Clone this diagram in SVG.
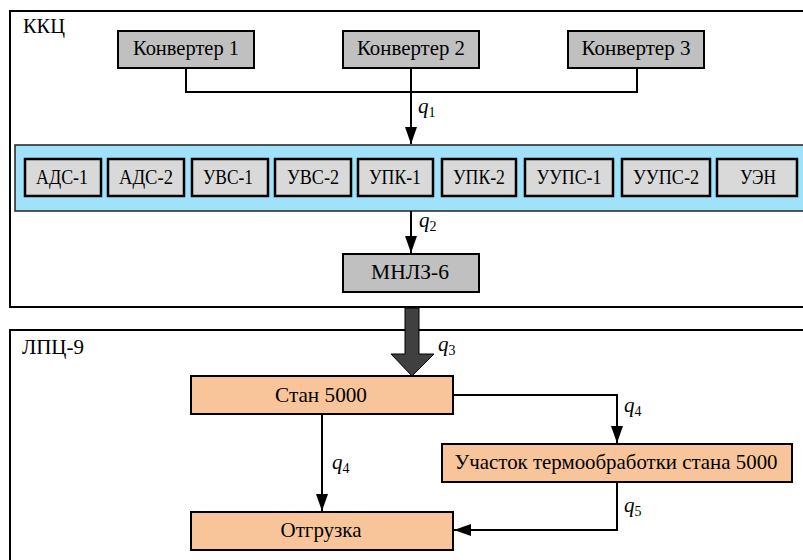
<svg xmlns="http://www.w3.org/2000/svg" width="803" height="560" viewBox="0 0 803 560">
  <defs>
    <marker id="arrowL" viewBox="0 0 17 12" refX="17" refY="6" markerWidth="17" markerHeight="12" markerUnits="userSpaceOnUse" orient="auto">
      <path d="M0,0 L17,6 L0,12 Z" fill="#000"/>
    </marker>
  </defs>

  <!-- shop frames -->
  <g id="kkc">
    <rect x="10" y="11" width="800" height="296" fill="#fff" stroke="#000" stroke-width="2"/>
    <text font-family="Liberation Serif" font-size="20" x="23" y="33" textLength="42" lengthAdjust="spacingAndGlyphs">ККЦ</text>
  </g>
  <g id="lpc9">
    <rect x="10" y="330" width="800" height="240" fill="#fff" stroke="#000" stroke-width="2"/>
    <text font-family="Liberation Serif" font-size="20" x="22" y="354" textLength="62" lengthAdjust="spacingAndGlyphs">ЛПЦ-9</text>
  </g>

  <!-- converters -->
  <g id="conv1">
    <rect x="118" y="31" width="136" height="37" fill="#c0c0c0" stroke="#000" stroke-width="2"/>
    <text font-family="Liberation Serif" font-size="21" text-anchor="middle" x="186" y="55" textLength="106" lengthAdjust="spacingAndGlyphs">Конвертер 1</text>
  </g>
  <g id="conv2">
    <rect x="343" y="31" width="136" height="37" fill="#c0c0c0" stroke="#000" stroke-width="2"/>
    <text font-family="Liberation Serif" font-size="21" text-anchor="middle" x="411" y="55" textLength="108" lengthAdjust="spacingAndGlyphs">Конвертер 2</text>
  </g>
  <g id="conv3">
    <rect x="568" y="31" width="136" height="37" fill="#c0c0c0" stroke="#000" stroke-width="2"/>
    <text font-family="Liberation Serif" font-size="21" text-anchor="middle" x="636" y="55" textLength="109" lengthAdjust="spacingAndGlyphs">Конвертер 3</text>
  </g>

  <!-- secondary treatment band -->
  <g id="treatment">
    <rect x="15" y="145" width="800" height="66" fill="#9fe2fa" stroke="#222" stroke-width="1.5"/>
  </g>
  <g id="ads1"><rect x="25" y="159" width="76" height="37" fill="#d9d9d9" stroke="#000" stroke-width="2.5"/><text font-family="Liberation Serif" font-size="20" text-anchor="middle" x="62" y="184" textLength="52" lengthAdjust="spacingAndGlyphs">АДС-1</text></g>
  <g id="ads2"><rect x="108" y="159" width="76" height="37" fill="#d9d9d9" stroke="#000" stroke-width="2.5"/><text font-family="Liberation Serif" font-size="20" text-anchor="middle" x="146" y="184" textLength="54" lengthAdjust="spacingAndGlyphs">АДС-2</text></g>
  <g id="uvs1"><rect x="192" y="159" width="76" height="37" fill="#d9d9d9" stroke="#000" stroke-width="2.5"/><text font-family="Liberation Serif" font-size="20" text-anchor="middle" x="228" y="184" textLength="50" lengthAdjust="spacingAndGlyphs">УВС-1</text></g>
  <g id="uvs2"><rect x="275" y="159" width="76" height="37" fill="#d9d9d9" stroke="#000" stroke-width="2.5"/><text font-family="Liberation Serif" font-size="20" text-anchor="middle" x="313" y="184" textLength="52" lengthAdjust="spacingAndGlyphs">УВС-2</text></g>
  <g id="upk1"><rect x="358" y="159" width="75" height="37" fill="#d9d9d9" stroke="#000" stroke-width="2.5"/><text font-family="Liberation Serif" font-size="20" text-anchor="middle" x="395" y="184" textLength="52" lengthAdjust="spacingAndGlyphs">УПК-1</text></g>
  <g id="upk2"><rect x="442" y="159" width="74" height="37" fill="#d9d9d9" stroke="#000" stroke-width="2.5"/><text font-family="Liberation Serif" font-size="20" text-anchor="middle" x="479" y="184" textLength="52" lengthAdjust="spacingAndGlyphs">УПК-2</text></g>
  <g id="uups1"><rect x="525" y="159" width="88" height="37" fill="#d9d9d9" stroke="#000" stroke-width="2.5"/><text font-family="Liberation Serif" font-size="20" text-anchor="middle" x="569" y="184" textLength="65" lengthAdjust="spacingAndGlyphs">УУПС-1</text></g>
  <g id="uups2"><rect x="622" y="159" width="88" height="37" fill="#d9d9d9" stroke="#000" stroke-width="2.5"/><text font-family="Liberation Serif" font-size="20" text-anchor="middle" x="666" y="184" textLength="66" lengthAdjust="spacingAndGlyphs">УУПС-2</text></g>
  <g id="uen"><rect x="717" y="159" width="80" height="37" fill="#d9d9d9" stroke="#000" stroke-width="2.5"/><text font-family="Liberation Serif" font-size="20" text-anchor="middle" x="758" y="184" textLength="36" lengthAdjust="spacingAndGlyphs">УЭН</text></g>

  <!-- caster -->
  <g id="mnlz6">
    <rect x="343" y="254" width="136" height="38" fill="#c0c0c0" stroke="#000" stroke-width="2"/>
    <text font-family="Liberation Serif" font-size="21" text-anchor="middle" x="410" y="279" textLength="78" lengthAdjust="spacingAndGlyphs">МНЛЗ-6</text>
  </g>

  <!-- rolling shop -->
  <g id="stan5000">
    <rect x="191" y="376" width="262" height="38" fill="#f8c59b" stroke="#000" stroke-width="2"/>
    <text font-family="Liberation Serif" font-size="21" text-anchor="middle" x="321" y="402" textLength="92" lengthAdjust="spacingAndGlyphs">Стан 5000</text>
  </g>
  <g id="heat">
    <rect x="442" y="444" width="350" height="38" fill="#f8c59b" stroke="#000" stroke-width="2"/>
    <text font-family="Liberation Serif" font-size="21" text-anchor="middle" x="616" y="469" textLength="323" lengthAdjust="spacingAndGlyphs">Участок термообработки стана 5000</text>
  </g>
  <g id="shipping">
    <rect x="191" y="512" width="262" height="38" fill="#f8c59b" stroke="#000" stroke-width="2"/>
    <text font-family="Liberation Serif" font-size="21" text-anchor="middle" x="321" y="537" textLength="81" lengthAdjust="spacingAndGlyphs">Отгрузка</text>
  </g>

  <!-- flows -->
  <g id="connectors" fill="none" stroke="#000" stroke-width="2">
    <path d="M186,68 V92 H637 V68"/>
    <path d="M411,68 V144" marker-end="url(#arrowL)"/>
    <path d="M411,211 V253" marker-end="url(#arrowL)"/>
    <path d="M405,308 H419 V354 H434 L412,376 L391,354 H405 Z" fill="#404040" stroke-width="1"/>
    <path d="M322,414 V511" marker-end="url(#arrowL)"/>
    <path d="M453,395 H617 V443" marker-end="url(#arrowL)"/>
    <path d="M617,482 V530 H454" marker-end="url(#arrowL)"/>
  </g>

  <!-- flow labels -->
  <g id="flow-labels">
    <text font-family="Liberation Serif" font-size="21" font-style="italic" x="418" y="113">q<tspan font-style="normal" font-size="14" dy="4">1</tspan></text>
    <text font-family="Liberation Serif" font-size="21" font-style="italic" x="419" y="227">q<tspan font-style="normal" font-size="14" dy="4">2</tspan></text>
    <text font-family="Liberation Serif" font-size="21" font-style="italic" x="438" y="351">q<tspan font-style="normal" font-size="14" dy="4">3</tspan></text>
    <text font-family="Liberation Serif" font-size="21" font-style="italic" x="624" y="412">q<tspan font-style="normal" font-size="14" dy="4">4</tspan></text>
    <text font-family="Liberation Serif" font-size="21" font-style="italic" x="332" y="469">q<tspan font-style="normal" font-size="14" dy="4">4</tspan></text>
    <text font-family="Liberation Serif" font-size="21" font-style="italic" x="624" y="512">q<tspan font-style="normal" font-size="14" dy="4">5</tspan></text>
  </g>
</svg>
